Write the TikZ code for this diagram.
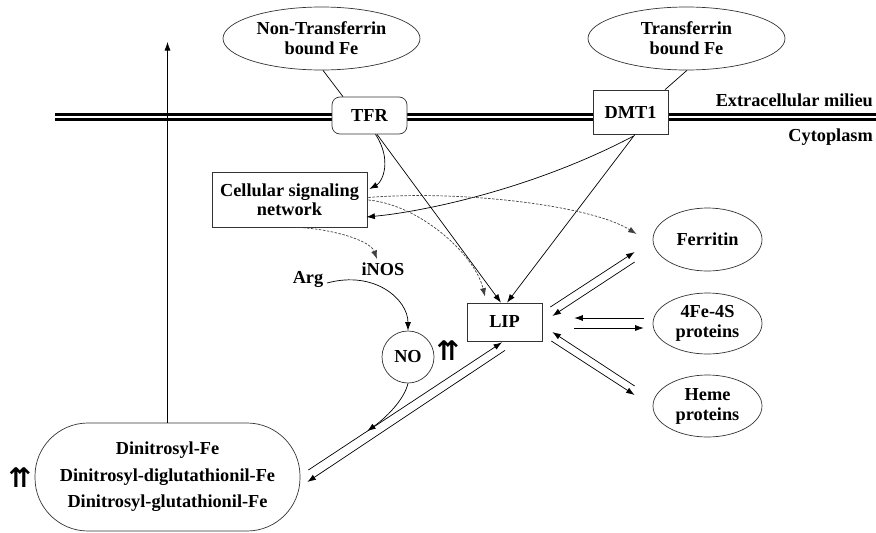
\documentclass[tikz,border=0pt]{standalone}
\usepackage{fontspec}
\setmainfont{Liberation Serif}
\newfontfamily\symfont{DejaVu Sans}
\usetikzlibrary{shapes.geometric,arrows.meta,calc}
\begin{document}
\begin{tikzpicture}[x=1pt,y=-1pt,
  every node/.style={font=\fontsize{18.3}{20}\selectfont\bfseries, align=center},
  lbl/.style={inner sep=0},
  ell/.style={draw=black!80, ellipse, inner sep=0, line width=0.7pt},
  box/.style={draw=black!80, rectangle, fill=white, inner sep=0, line width=0.7pt},
  arr/.style={-{Latex[length=8.5pt,width=6pt]}, line width=0.7pt},
  darr/.style={arr, dash pattern=on 2.5pt off 1.5pt, draw=black!75},
  memb/.style={line width=2.6pt},
  upup/.style={font=\symfont\bfseries\fontsize{27}{27}\selectfont, inner sep=0}
]
\useasboundingbox (0,0) rectangle (876,533);

% membrane
\draw[memb] (55,114.6) -- (876,114.6);
\draw[memb] (55,119.4) -- (876,119.4);

% nodes
\node[ell, minimum width=197pt, minimum height=63pt] (ntf) at (321.5,38.5) {Non-Transferrin\\bound Fe};
\node[ell, minimum width=197pt, minimum height=63pt] (tf) at (686.5,38.5) {Transferrin\\bound Fe};
\node[box, rounded corners=8pt, minimum width=75pt, minimum height=37pt] (tfr) at (369.5,115.5) {TFR};
\node[box, minimum width=75pt, minimum height=44pt] (dmt) at (630.5,112) {DMT1};
\node[lbl, anchor=east] (ext) at (873,100) {Extracellular milieu};
\node[lbl, anchor=east] (cyt) at (873,137) {Cytoplasm};
\node[box, minimum width=155pt, minimum height=55pt, font=\fontsize{18.3}{19}\selectfont\bfseries] (csn) at (289.5,199.5) {Cellular signaling\\network};
\node[lbl] (inos) at (383,269) {iNOS};
\node[lbl] (arg) at (308,279) {Arg};
\node[draw=black!80, circle, minimum size=52pt, inner sep=0, line width=0.7pt] (no) at (408,357) {NO};
\node[upup] (up1) at (448,351) {⇈};
\node[box, minimum width=75pt, minimum height=38pt] (lip) at (504.5,322) {LIP};
\node[ell, minimum width=109pt, minimum height=63pt] (fer) at (707.5,239.5) {Ferritin};
\node[ell, minimum width=109pt, minimum height=61pt] (fes) at (707.5,323.5) {4Fe-4S\\proteins};
\node[ell, minimum width=109pt, minimum height=62pt] (hem) at (707.5,406) {Heme\\proteins};
\node[draw=black!80, line width=0.7pt, rounded corners=53pt, minimum width=265pt, minimum height=108pt, inner sep=0, font=\fontsize{18.3}{26.5}\selectfont\bfseries] (dn) at (167.5,477) {Dinitrosyl-Fe\\Dinitrosyl-diglutathionil-Fe\\Dinitrosyl-glutathionil-Fe};
\node[upup] (up2) at (20,478) {⇈};

% connectors above membrane
\draw[line width=0.7pt] ($(ntf.south)+(1.5,0)$) -- ($(tfr.north)+(-26.5,0)$);
\draw[line width=0.7pt] ($(tf.south)+(0.5,0)$) -- ($(dmt.north)+(34.5,0)$);

% vertical arrow
\coordinate (vtop) at (dn.north |- 0,42);
\draw[arr] (dn.north) -- (vtop);

% TFR / DMT1 arrows
\draw[arr] ($(tfr.south)+(6,0)$) .. controls +(17,26) and +(13,-7) .. ($(csn.east)+(2,-10.5)$);
\draw[arr] ($(tfr.south)+(7.5,0)$) -- ($(lip.north)+(-3.5,0)$);
\draw[arr] ($(dmt.south)+(4.5,0)$) -- ($(lip.north)+(2.5,0)$);
\draw[arr] ($(dmt.south)+(2.5,2)$) .. controls +(-103,54) and +(54,-5) .. ($(csn.east)+(-1,17.5)$);

% dashed signaling arrows
\draw[darr] ($(csn.east)+(1,-2)$) .. controls +(92,-7.5) and +(-47,-29) .. ($(fer.west)+(-16,-5.5)$);
\draw[darr] ($(csn.east)+(1,0.5)$) .. controls +(52,5) and +(-10,-42) .. ($(lip.north)+(-19.5,-6)$);
\draw[darr] ($(csn.south)+(5.5,0)$) .. controls +(35,1) and +(-7,-19) .. ($(inos.center)+(-6,-10)$);

% Arg -> NO
\draw[arr] ($(arg.center)+(19,4)$) .. controls +(48,-13) and +(0,-31) .. (no.north);

% LIP <-> Dinitrosyl
\coordinate (a1) at ($(dn.east)+(8,-7)$);
\coordinate (a2) at ($(lip.south)+(-2.5,1)$);
\draw[arr] (a1) -- (a2);
\draw[arr] ($(lip.south)+(0.5,9)$) -- ($(dn.east)+(7,5)$);
\draw[arr] (no.south) .. controls +(-4,17) and +(18,-13) .. ($(a1)!0.304!(a2)$);

% LIP <-> Ferritin
\draw[arr] ($(lip.east)+(8,-15)$) -- ($(fer.west)+(-18,12.5)$);
\draw[arr] ($(fer.west)+(-18,22.5)$) -- ($(lip.east)+(10,-6)$);
% LIP <-> 4Fe-4S
\draw[arr] ($(fes.west)+(-9,-5.5)$) -- ($(lip.east)+(32,-4)$);
\draw[arr] ($(lip.east)+(32,6)$) -- ($(fes.west)+(-9,4.5)$);
% LIP <-> Heme
\draw[arr] ($(hem.west)+(-18,-20)$) -- ($(lip.east)+(10,10)$);
\draw[arr] ($(lip.east)+(9,19)$) -- ($(hem.west)+(-18,-11)$);
\end{tikzpicture}
\end{document}
